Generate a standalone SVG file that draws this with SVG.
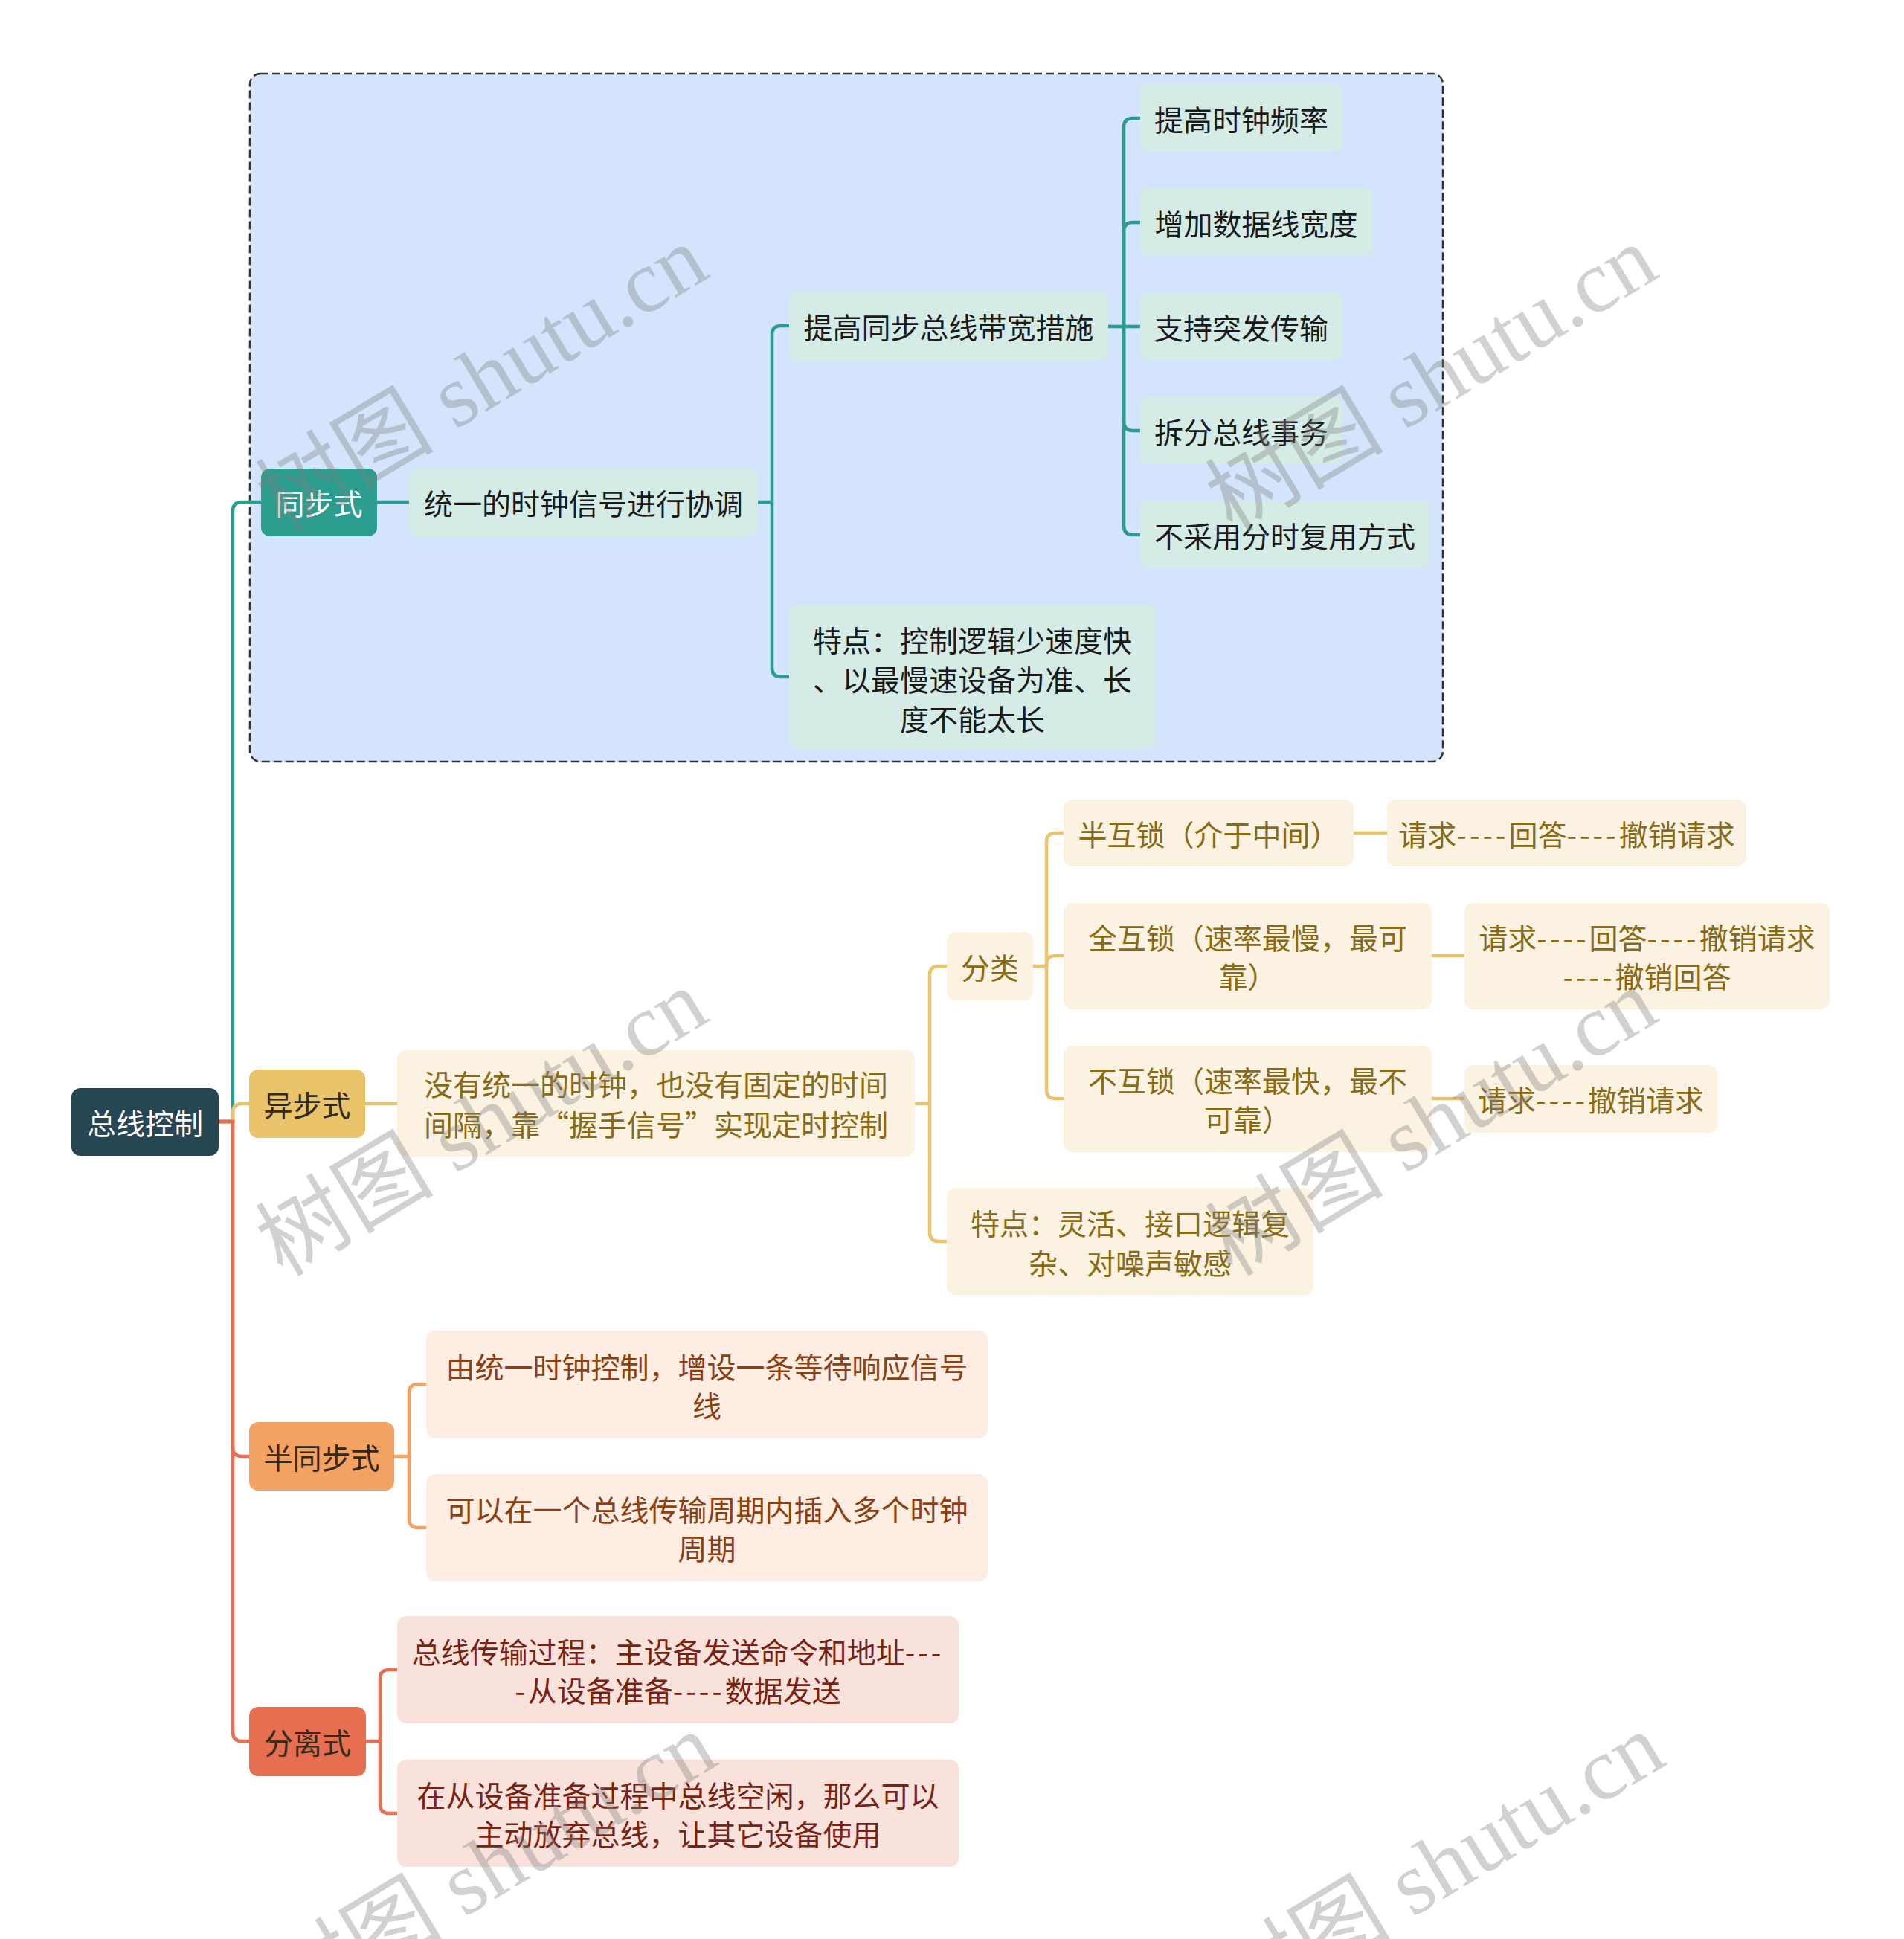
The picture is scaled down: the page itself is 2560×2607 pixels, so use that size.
<svg xmlns="http://www.w3.org/2000/svg" width="2560" height="2607" viewBox="0 0 2560 2607">
<style>
text{font-family:"Noto Sans CJK SC","Noto Sans",sans-serif;font-size:39px;text-anchor:middle;dominant-baseline:central}
.d{letter-spacing:4px}
.c{fill:none;stroke-width:4.5;stroke-linecap:round}
.teal{stroke:#2a9d8f}.yel{stroke:#e9c46a}.red{stroke:#e76f51}.org{stroke:#f4a261}
.root{fill:#264653}
.n1s{fill:#2a9d8f}.n1a{fill:#e9c46a}.n1h{fill:#f4a261}.n1p{fill:#e76f51}
.ns{fill:#d4ebe6}.na{fill:#fbf2e1}.nh{fill:#fdede2}.np{fill:#f9e2dc}
.ts{fill:#1a1a1a}.ta{fill:#8a6a14}.th{fill:#8c4012}.tp{fill:#7a2212}.tw{fill:#ffffff}.td{fill:#332a1a}
.wm{font-family:"Liberation Serif","Noto Sans CJK SC",serif;font-size:120px;fill:#808080;fill-opacity:0.36;dominant-baseline:auto}
</style>
<rect width="2560" height="2607" fill="#ffffff"/>
<rect id="boundary" x="336" y="99" width="1604" height="925" rx="14" fill="#d4e4fc" stroke="#333333" stroke-width="2.5" stroke-dasharray="11 5"/>
<g id="connectors">
<path class="c teal" d="M294,1508 H313 V687 Q313,675 325,675 H351"/>
<path class="c teal" d="M507,675 H550"/>
<path class="c teal" d="M1019,675 H1038"/>
<path class="c teal" d="M1038,675 V450 Q1038,438 1050,438 H1061"/>
<path class="c teal" d="M1038,675 V898 Q1038,910 1050,910 H1061"/>
<path class="c teal" d="M1490,439 H1511"/>
<path class="c teal" d="M1511,439 V171 Q1511,159 1523,159 H1533"/>
<path class="c teal" d="M1511,439 V311 Q1511,299 1523,299 H1533"/>
<path class="c teal" d="M1511,439 H1533"/>
<path class="c teal" d="M1511,439 V567 Q1511,579 1523,579 H1533"/>
<path class="c teal" d="M1511,439 V707 Q1511,719 1523,719 H1533"/>
<path class="c yel" d="M294,1508 H313 V1496 Q313,1484 325,1484 H335"/>
<path class="c yel" d="M491,1484 H534"/>
<path class="c yel" d="M1230,1484 H1250"/>
<path class="c yel" d="M1250,1484 V1311 Q1250,1299 1262,1299 H1273"/>
<path class="c yel" d="M1250,1484 V1657 Q1250,1669 1262,1669 H1273"/>
<path class="c yel" d="M1389,1299 H1407"/>
<path class="c yel" d="M1407,1299 V1132 Q1407,1120 1419,1120 H1430"/>
<path class="c yel" d="M1407,1299 V1297 Q1407,1285 1419,1285 H1430"/>
<path class="c yel" d="M1407,1299 V1465 Q1407,1477 1419,1477 H1430"/>
<path class="c yel" d="M1820,1120 H1865"/>
<path class="c yel" d="M1925,1285 H1969"/>
<path class="c yel" d="M1925,1477 H1969"/>
<path class="c org" d="M530,1958 H550"/>
<path class="c org" d="M550,1958 V1873 Q550,1861 562,1861 H573"/>
<path class="c org" d="M550,1958 V2042 Q550,2054 562,2054 H573"/>
<path class="c red" d="M294,1508 H313 V1946 Q313,1958 325,1958 H335"/>
<path class="c red" d="M294,1508 H313 V2329 Q313,2341 325,2341 H335"/>
<path class="c red" d="M492,2341 H511"/>
<path class="c red" d="M511,2341 V2257 Q511,2245 523,2245 H534"/>
<path class="c red" d="M511,2341 V2426 Q511,2438 523,2438 H534"/>
</g>
<g id="root"><rect class="root" x="96" y="1463" width="198" height="91" rx="12"/><text class="tw" x="195" y="1508">总线控制</text></g>
<g id="sync"><rect class="n1s" x="351" y="630" width="156" height="91" rx="12"/><text class="tw" x="429" y="675">同步式</text></g>
<g id="sync-clock"><rect class="ns" x="550" y="630" width="469" height="91" rx="12"/><text class="ts" x="784.5" y="675">统一的时钟信号进行协调</text></g>
<g id="sync-bw"><rect class="ns" x="1061" y="392" width="429" height="93" rx="12"/><text class="ts" x="1275.5" y="438">提高同步总线带宽措施</text></g>
<g id="bw1"><rect class="ns" x="1533" y="113" width="272" height="91" rx="12"/><text class="ts" x="1669" y="159">提高时钟频率</text></g>
<g id="bw2"><rect class="ns" x="1533" y="253" width="312" height="91" rx="12"/><text class="ts" x="1689" y="299">增加数据线宽度</text></g>
<g id="bw3"><rect class="ns" x="1533" y="393" width="272" height="91" rx="12"/><text class="ts" x="1669" y="439">支持突发传输</text></g>
<g id="bw4"><rect class="ns" x="1533" y="533" width="272" height="91" rx="12"/><text class="ts" x="1669" y="579">拆分总线事务</text></g>
<g id="bw5"><rect class="ns" x="1533" y="673" width="389" height="91" rx="12"/><text class="ts" x="1727.5" y="719">不采用分时复用方式</text></g>
<g id="sync-feat"><rect class="ns" x="1061" y="813" width="493" height="194" rx="12"/><text class="ts" x="1307.5" y="859">特点：控制逻辑少速度快</text><text class="ts" x="1307.5" y="912">、以最慢速设备为准、长</text><text class="ts" x="1307.5" y="965">度不能太长</text></g>
<g id="async"><rect class="n1a" x="335" y="1438" width="156" height="92" rx="12"/><text class="td" x="413" y="1484">异步式</text></g>
<g id="async-desc"><rect class="na" x="534" y="1412" width="696" height="143" rx="12"/><text class="ta" x="882" y="1456">没有统一的时钟，也没有固定的时间</text><text class="ta" x="882" y="1510">间隔，靠“握手信号”实现定时控制</text></g>
<g id="async-cls"><rect class="na" x="1273" y="1253" width="116" height="92" rx="12"/><text class="ta" x="1331" y="1299">分类</text></g>
<g id="async-feat"><rect class="na" x="1273" y="1597" width="493" height="144" rx="12"/><text class="ta" x="1519.5" y="1643">特点：灵活、接口逻辑复</text><text class="ta" x="1519.5" y="1696">杂、对噪声敏感</text></g>
<g id="semi-lock"><rect class="na" x="1430" y="1075" width="390" height="90" rx="12"/><text class="ta" x="1625" y="1120">半互锁（介于中间）</text></g>
<g id="semi-lock-seq"><rect class="na" x="1865" y="1075" width="483" height="90" rx="12"/><text class="ta" x="2106.5" y="1120">请求<tspan class="d">----</tspan>回答<tspan class="d">----</tspan>撤销请求</text></g>
<g id="full-lock"><rect class="na" x="1430" y="1214" width="495" height="143" rx="12"/><text class="ta" x="1677.5" y="1259">全互锁（速率最慢，最可</text><text class="ta" x="1677.5" y="1311">靠）</text></g>
<g id="full-lock-seq"><rect class="na" x="1969" y="1214" width="491" height="143" rx="12"/><text class="ta" x="2214.5" y="1259">请求<tspan class="d">----</tspan>回答<tspan class="d">----</tspan>撤销请求</text><text class="ta" x="2214.5" y="1311"><tspan class="d">----</tspan>撤销回答</text></g>
<g id="no-lock"><rect class="na" x="1430" y="1406" width="495" height="143" rx="12"/><text class="ta" x="1677.5" y="1451">不互锁（速率最快，最不</text><text class="ta" x="1677.5" y="1503">可靠）</text></g>
<g id="no-lock-seq"><rect class="na" x="1969" y="1432" width="340" height="91" rx="12"/><text class="ta" x="2139" y="1477">请求<tspan class="d">----</tspan>撤销请求</text></g>
<g id="semisync"><rect class="n1h" x="335" y="1912" width="195" height="92" rx="12"/><text class="td" x="432.5" y="1958">半同步式</text></g>
<g id="semisync-1"><rect class="nh" x="573" y="1789" width="755" height="145" rx="12"/><text class="th" x="950.5" y="1836">由统一时钟控制，增设一条等待响应信号</text><text class="th" x="950.5" y="1888">线</text></g>
<g id="semisync-2"><rect class="nh" x="573" y="1982" width="755" height="144" rx="12"/><text class="th" x="950.5" y="2028">可以在一个总线传输周期内插入多个时钟</text><text class="th" x="950.5" y="2080">周期</text></g>
<g id="split"><rect class="n1p" x="335" y="2295" width="157" height="93" rx="12"/><text class="td" x="413.5" y="2341">分离式</text></g>
<g id="split-1"><rect class="np" x="534" y="2173" width="755" height="144" rx="12"/><text class="tp" x="911.5" y="2219">总线传输过程：主设备发送命令和地址<tspan class="d">---</tspan></text><text class="tp" x="911.5" y="2271"><tspan class="d">-</tspan>从设备准备<tspan class="d">----</tspan>数据发送</text></g>
<g id="split-2"><rect class="np" x="534" y="2366" width="755" height="144" rx="12"/><text class="tp" x="911.5" y="2412">在从设备准备过程中总线空闲，那么可以</text><text class="tp" x="911.5" y="2464">主动放弃总线，让其它设备使用</text></g>
<g id="watermarks">
<text class="wm" transform="translate(648,510) rotate(-31)" x="0" y="40">树图 shutu.cn</text>
<text class="wm" transform="translate(1925,510) rotate(-31)" x="0" y="40">树图 shutu.cn</text>
<text class="wm" transform="translate(648,1510) rotate(-31)" x="0" y="40">树图 shutu.cn</text>
<text class="wm" transform="translate(1925,1510) rotate(-31)" x="0" y="40">树图 shutu.cn</text>
<text class="wm" transform="translate(660,2510) rotate(-31)" x="0" y="40">树图 shutu.cn</text>
<text class="wm" transform="translate(1935,2510) rotate(-31)" x="0" y="40">树图 shutu.cn</text>
</g>
</svg>
